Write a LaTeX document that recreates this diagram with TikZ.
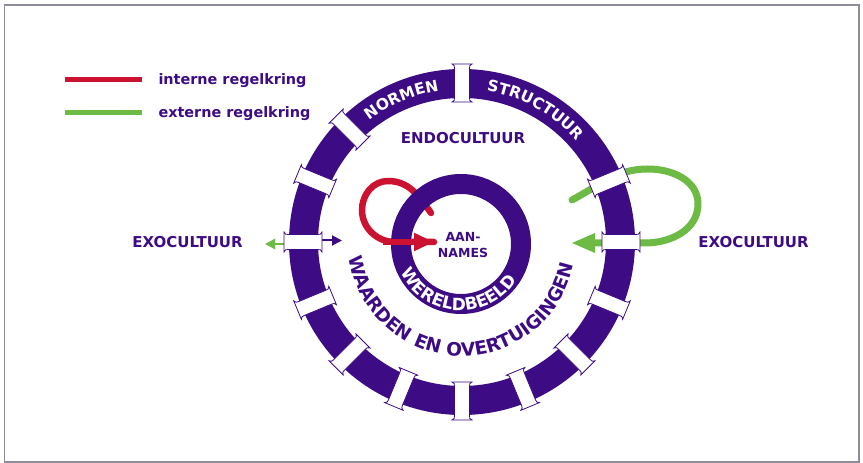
\documentclass[tikz,border=0pt]{standalone}
\usepackage{fontspec}
\setmainfont{DejaVu Sans}
\usetikzlibrary{arrows.meta,decorations.text}
\definecolor{ringpurple}{HTML}{3D0C84}
\definecolor{loopred}{HTML}{CC1231}
\definecolor{loopgreen}{HTML}{6DBA44}
\definecolor{framegray}{HTML}{8C8C9A}
\tikzset{
  labeltext/.style={text=ringpurple,font=\bfseries\fontsize{15}{15}\selectfont},
  legendtext/.style={text=ringpurple,font=\bfseries\fontsize{14.4}{15}\selectfont,anchor=base west},
  gapblock/.style={fill=white,draw=ringpurple,line width=0.8pt},
  internloop/.style={draw=loopred,line width=6.5pt},
  externloop/.style={draw=loopgreen,line width=7pt},
  ringtext/.style={decorate,decoration={text along path,text align=center,text={#1}}},
}

\begin{document}
\begin{tikzpicture}[x=1pt,y=1pt]
  \useasboundingbox (0,0) rectangle (863,463);
  \draw[framegray,line width=1.2pt] (4.5,1) rectangle (859,458);

  \coordinate (C) at (462,221);   % outer ring
  \coordinate (W) at (461,219);   % wereldbeeld

  % legend
  \coordinate (legredA) at (65,383);
  \coordinate (legredB) at (142,383);
  \coordinate (leggreenA) at (65,350);
  \coordinate (leggreenB) at (142,350);
  \draw[loopred,line width=5pt] (legredA) -- (legredB);
  \draw[loopgreen,line width=5pt] (leggreenA) -- (leggreenB);
  \node[legendtext] (intern) at (155,378) {interne regelkring};
  \node[legendtext] (extern) at (155,345) {externe regelkring};

  % loops
  \coordinate (gstart) at (572,263);
  \coordinate (gtip) at (571,220);
  \draw[externloop,line cap=round,-{Triangle[length=24pt,width=18pt]}]
    (gstart) to[out=28,in=180] (648,294) to[out=0,in=90] (698,259)
    to[out=270,in=0] (645,220) -- (gtip);
  \coordinate (rstart) at (431,250);
  \coordinate (rtip) at (434,221);
  \coordinate (rbend) at (395,221);
  \draw[internloop,line cap=round]
    (rstart) to[out=125,in=0] (388,282) to[out=180,in=90] (362,253)
    to[out=270,in=180] (rbend) -- (rtip);

  \coordinate (gapW) at (300,221);
  \coordinate (exoout) at (265,219);
  \coordinate (endoin) at (342,222.5);
  \draw[loopgreen,line width=2.6pt,-{Triangle[length=10pt,width=10pt]}]
    ([yshift=-2pt]gapW) -- (exoout);
  \draw[ringpurple,line width=2pt,-{Triangle[length=10pt,width=10pt]}]
    ([yshift=1.5pt]gapW) -- (endoin);

  % rings
  \draw[ringpurple,line width=29pt] (C) circle[radius=158.5];
  \draw[ringpurple,line width=20pt] (W) circle[radius=60];

  \foreach \a in {0,22.5,90,135,157.5,180,202.5,225,247.5,270,292.5,315,337.5}
    \draw[gapblock,shift={(C)},rotate=\a]
      (140,-10) .. controls (141.5,-7.5) .. (144.5,-7.5) -- (173.5,-7.5)
      .. controls (176.5,-7.5) .. (178,-10) -- (178,10)
      .. controls (176.5,7.5) .. (173.5,7.5) -- (144.5,7.5)
      .. controls (141.5,7.5) .. (140,10) -- cycle;

  \draw[internloop,-{Triangle[length=20pt,width=17pt]}] ([xshift=-12pt]rbend) -- (rtip);

  % texts
  \node[labeltext] (endo) at (463,325) {ENDOCULTUUR};
  \node[labeltext] (exoleft) at (187.5,221) {EXOCULTUUR};
  \node[labeltext] (exoright) at (753.5,221) {EXOCULTUUR};
  \node[labeltext,font=\bfseries\fontsize{12.5}{16}\selectfont,align=center] (aannames) at (463,218) {AAN-\\NAMES};

  \path[ringtext={|\color{white}\bfseries\fontsize{15.5}{15.5}\selectfont|NORMEN}]
    ([shift={(135:153)}]C) arc[start angle=135,end angle=91,radius=153];
  \path[ringtext={|\color{white}\bfseries\fontsize{15.5}{15.5}\selectfont|STRUCTUUR}]
    ([shift={(90:153)}]C) arc[start angle=90,end angle=32,radius=153];
  \path[ringtext={|\color{ringpurple}\bfseries\fontsize{18.5}{18.5}\selectfont|WAARDEN EN OVERTUIGINGEN}]
    ([shift={(178:114)}]C) arc[start angle=178,end angle=358,radius=114];
  \path[ringtext={|\color{white}\bfseries\fontsize{17}{17}\selectfont|WERELDBEELD}]
    ([shift={(176:66.5)}]W) arc[start angle=176,end angle=356,radius=66.5];
\end{tikzpicture}
\end{document}
